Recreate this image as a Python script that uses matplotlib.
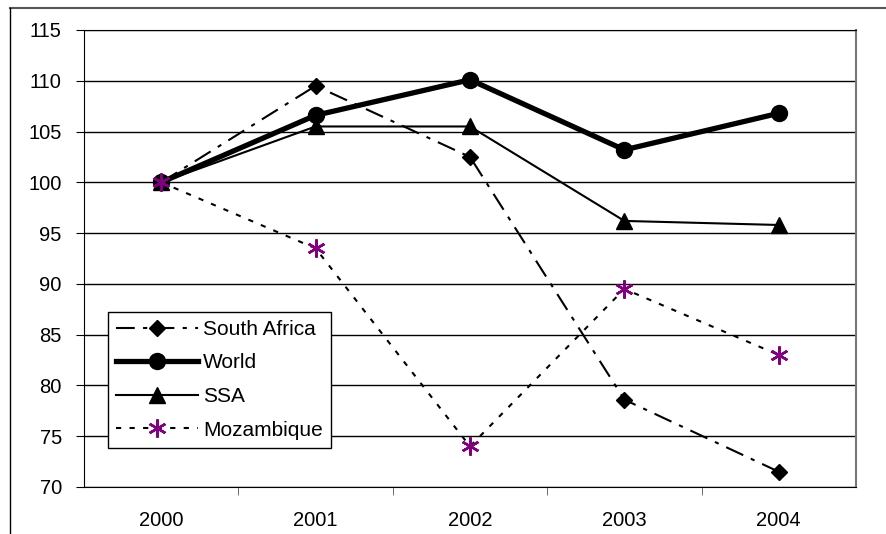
import matplotlib.pyplot as plt
from matplotlib.lines import Line2D

years = ["2000", "2001", "2002", "2003", "2004"]
south_africa = [100, 109.5, 102.5, 78.6, 71.5]
world = [100, 106.6, 110.1, 103.2, 106.8]
ssa = [100, 105.5, 105.5, 96.2, 95.8]
mozambique = [100, 93.5, 74.0, 89.5, 83.0]
yticks = [70, 75, 80, 85, 90, 95, 100, 105, 110, 115]

plt.rcParams['font.family'] = ['Liberation Sans', 'DejaVu Sans']

fig = plt.figure(figsize=(8.87, 5.34), dpi=100)
ax = fig.add_axes([84 / 887, 1 - 487 / 534, 772 / 887, 457 / 534])

# outer chart frame (only top and left visible in the reference)
fig.add_artist(Line2D([10 / 887, 1], [1 - 7.5 / 534] * 2, color='#555555', lw=1.5))
fig.add_artist(Line2D([10 / 887] * 2, [0, 1 - 7.5 / 534], color='black', lw=1.0))

x = list(range(len(years)))
ax.plot(x, south_africa, color='black', lw=1.5, dashes=(9, 4, 2, 4),
        marker='D', markersize=8.5, label='South Africa')
ax.plot(x, world, color='black', lw=3.8, marker='o', markersize=11.5, label='World')
ax.plot(x, ssa, color='black', lw=1.5, marker='^', markersize=11.5, label='SSA')
ax.plot(x, mozambique, color='black', lw=1.5, dashes=(2.5, 4),
        marker=(6, 2, 0), markersize=13, markeredgecolor='#800080',
        markeredgewidth=1.8, label='Mozambique')

ax.set_xlim(-0.5, len(years) - 0.5)
ax.set_ylim(70, 115)
ax.set_yticks(yticks)
ax.set_xticks(x)
ax.set_xticklabels(years)
ax.set_xticks([i + 0.5 for i in range(len(years) - 1)], minor=True)
ax.tick_params(axis='x', which='major', length=0, pad=17, labelsize=14.5)
ax.tick_params(axis='x', which='minor', length=6, direction='out', color='#555555')
ax.tick_params(axis='y', length=6, direction='out', pad=10, labelsize=14.5)
ax.grid(axis='y', color='black', lw=1.0)
ax.set_axisbelow(True)
for side in ['left', 'bottom']:
    ax.spines[side].set_color('black')
ax.spines['right'].set_color('#777777')
ax.spines['right'].set_linewidth(1.5)
ax.spines['top'].set_color('black')

leg = ax.legend(loc='lower left', bbox_to_anchor=(24 / 772, 39 / 457), fontsize=15,
                frameon=True, fancybox=False, edgecolor='black', framealpha=1,
                handlelength=3.9, handletextpad=0.25, borderpad=0.4, labelspacing=0.7,
                borderaxespad=0)
leg.get_frame().set_linewidth(1.0)

fig.savefig('out.png', dpi=100)
